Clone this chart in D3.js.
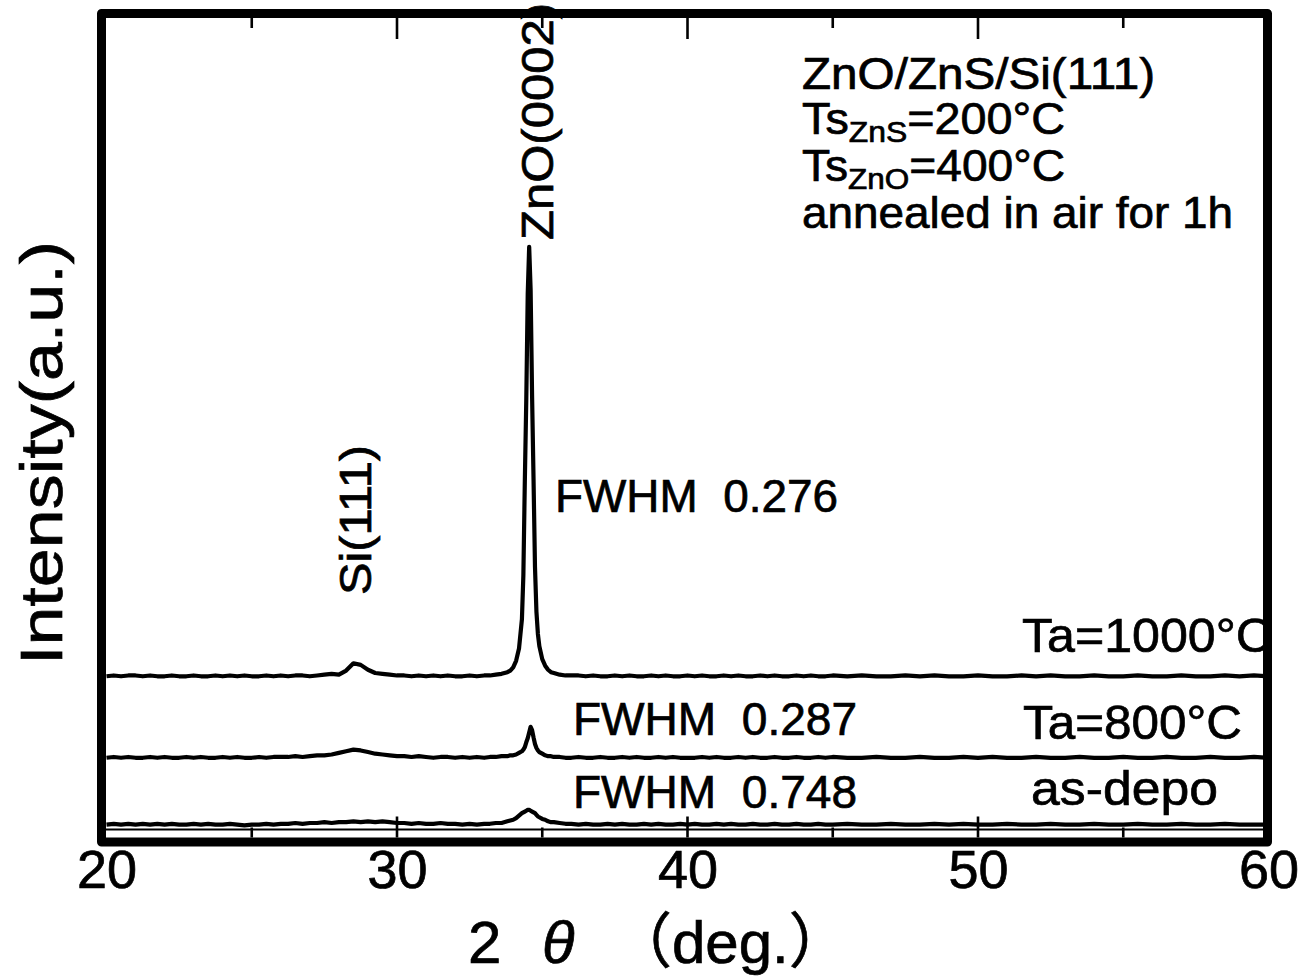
<!DOCTYPE html>
<html>
<head>
<meta charset="utf-8">
<script src="https://cdn.jsdelivr.net/npm/d3@7"></script>
<style>
  body { margin: 0; background: #fff; }
  text { font-family: "Liberation Sans", Arial, Helvetica, sans-serif; fill: #000;
         stroke: #000; stroke-width: 0.7px; white-space: pre; }
</style>
</head>
<body>
<svg id="chart" width="1303" height="979"></svg>
<script>
// ---- data -------------------------------------------------------------
// 2θ sampling (deg.): coarse scan, fine steps across the ZnO(0002) peak
const peakAngles = [33.2, 33.4, 33.6, 33.8, 33.9, 34.0, 34.1, 34.2, 34.3, 34.35, 34.4, 34.45,
  34.5, 34.55, 34.6, 34.65, 34.7, 34.75, 34.8, 34.85, 34.9, 35.0, 35.1, 35.2, 35.3, 35.4,
  35.6, 35.8, 36.0];
const twoTheta = [].concat(
  d3.range(20, 33.001, 0.25),
  peakAngles,
  d3.range(36.25, 45.001, 0.25),
  d3.range(45.5, 60.001, 0.5)
);

// intensities (a.u.)
const asDepo = [
  // 20 – 33
  6,7,6,7, 6,7,6,7, 6,7,6,6, 7,6,7,6, 6,7,6,5, 6,6,7,6, 7,7,8,7,
  8,8,9,8, 9,9,10,9, 10,9,10,9, 8,8,7,8, 7,7,8,7, 7,6,7,6, 7,
  // 33.2 – 36
  7,8,8,10, 11,12,14,17,20, 21,22,23,24,24,23,22,21,20,18,16,15, 13,12,10,9,9, 8,7,7,
  // 36.25 – 45
  6,7,6, 6,7,6,7, 6,6,7,6, 7,6,6,7, 6,7,6,6, 7,6,7,6, 6,7,6,6, 7,6,6,7, 6,6,7,6, 6,
  // 45.5 – 60
  7,6,6,7,6,6,7,6,7,6, 6,7,6,6,7,6,6,7,6,6, 7,6,6,7,6,6,7,6,6,6
];
const ta800 = [
  6,7,6,7, 6,6,7,6, 7,6,6,7, 6,7,6,6, 7,6,7,6, 6,7,6,7, 7,7,8,7,
  8,9,9,10, 12,14,16,15, 13,11,10,9, 8,8,7,8, 7,6,7,7, 6,7,6,7, 6,
  7,7,8,8, 9,9,10,12,14, 16,19,25,30,37,44,40,31,23,18,15,13, 11,9,8,8,7, 7,6,6,
  7,6,6, 7,6,6,7, 6,7,6,6, 7,6,7,6, 6,6,7,6, 7,6,6,7, 6,7,6,6, 7,6,6,7, 6,6,7,6, 7,
  6,6,7,6,6,7,6,6,7,6, 7,6,6,7,6,6,7,6,6,7, 6,6,7,6,6,7,6,6,7,6
];
const ta1000 = [
  6,7,6,7, 7,6,7,6, 6,7,6,6, 7,6,6,7, 6,7,6,7, 6,6,7,6, 7,6,7,7,
  6,7,8,9, 8,13,22,20, 14,10,9,8, 7,7,6,7, 6,7,6,7, 6,6,7,6, 7,
  7,8,9,11, 13,17,25,40,76, 130,245,345,475,533,480,350,248,140,85,58,43, 27,19,14,11,10, 8,7,7,
  7,6,7, 6,6,7,6, 7,6,6,7, 6,7,6,6, 7,6,7,6, 6,7,6,7, 6,6,7,6, 7,6,6,7, 6,7,6,6, 7,
  6,7,6,6,7,6,7,6,6,7, 6,6,7,6,7,6,6,7,6,6, 7,6,6,7,6,6,7,6,7,6
];

const seriesNames = ["as-depo", "Ta=800°C", "Ta=1000°C"];
const seriesValues = [asDepo, ta800, ta1000];
const seriesOffsets = [0, 82, 182];       // vertical stacking (a.u.)
const fwhmLabels = ["FWHM  0.748", "FWHM  0.287", "FWHM  0.276"];

const xTickLabels = [20, 30, 40, 50, 60];
const xMajorTicks = [30, 40, 50];
const xMinorTicks = [25, 35, 45, 55];

// ---- layout -----------------------------------------------------------
const svg = d3.select("#chart");
const frame = { left: 101.5, right: 1267.5, top: 13.5, bottom: 842 };

const x = d3.scaleLinear().domain([20, 60]).range([106.5, 1268.5]);
const y = d3.scaleLinear().domain([0, 1000]).range([829.5, 14.5]);

// zero-intensity line
svg.append("line")
  .attr("x1", frame.left).attr("x2", frame.right)
  .attr("y1", y(0)).attr("y2", y(0))
  .attr("stroke", "#000").attr("stroke-width", 2);

// diffraction patterns
const line = d3.line().x(d => x(d[0])).y(d => y(d[1]));
seriesValues.forEach((vals, i) => {
  const pts = twoTheta.map((t, k) => [t, vals[k] + seriesOffsets[i]]);
  svg.append("path")
    .datum(pts)
    .attr("d", line)
    .attr("fill", "none")
    .attr("stroke", "#000")
    .attr("stroke-width", 4.2)
    .attr("stroke-linejoin", "round");
});

// ticks on bottom and top edges (pointing inward)
const inB = frame.bottom - 4.5, inT = frame.top + 4.5;
const tickG = svg.append("g").attr("stroke", "#000").attr("stroke-width", 2.6);
xMajorTicks.forEach(v => {
  tickG.append("line").attr("x1", x(v)).attr("x2", x(v)).attr("y1", inB).attr("y2", inB - 21);
  tickG.append("line").attr("x1", x(v)).attr("x2", x(v)).attr("y1", inT).attr("y2", inT + 21);
});
xMinorTicks.forEach(v => {
  tickG.append("line").attr("x1", x(v)).attr("x2", x(v)).attr("y1", inB).attr("y2", inB - 10);
  tickG.append("line").attr("x1", x(v)).attr("x2", x(v)).attr("y1", inT).attr("y2", inT + 10);
});

// tick labels via the axis generator
const xAxis = d3.axisBottom(x).tickValues(xTickLabels).tickSize(0).tickPadding(0)
  .tickFormat(d3.format("d"));
const axG = svg.append("g").attr("transform", `translate(0,${frame.bottom})`).call(xAxis);
axG.select(".domain").remove();
axG.selectAll("text")
  .attr("y", 46).attr("dy", null)
  .style("font-family", '"Liberation Sans", Arial, sans-serif')
  .style("font-size", "54px")
  .attr("fill", "#000");

// ---- text helpers -----------------------------------------------------
function label(txt, px, py, size, len, opts = {}) {
  const t = svg.append("text")
    .attr("x", px).attr("y", py)
    .style("font-size", size + "px")
    .text(txt);
  if (len) t.attr("textLength", len).attr("lengthAdjust", "spacingAndGlyphs");
  if (opts.rotate) {
    t.attr("x", 0).attr("y", 0)
      .attr("transform", `translate(${px},${py}) rotate(-90)`);
  }
  if (opts.anchor) t.attr("text-anchor", opts.anchor);
  return t;
}

// series labels
label(seriesNames[2], 1022, 652, 49, 250);
label(seriesNames[1], 1023, 739, 49, 219);
label(seriesNames[0], 1031, 805, 49, 187);

// FWHM values
label(fwhmLabels[2], 555, 512, 46, 283);
label(fwhmLabels[1], 573, 735, 46, 284);
label(fwhmLabels[0], 573, 808, 46, 284);

// peak assignments (vertical)
label("ZnO(0002)", 553, 240, 44, 237, { rotate: true });
label("Si(111)", 371, 595, 44, 150, { rotate: true });

// sample description
label("ZnO/ZnS/Si(111)", 802, 89, 44, 353);
function subLine(main, sub, rest, py, len) {
  const t = svg.append("text").attr("x", 802).attr("y", py).style("font-size", "44px");
  t.append("tspan").text(main);
  t.append("tspan").attr("dy", 8).style("font-size", "30px").text(sub);
  t.append("tspan").attr("dy", -8).text(rest);
  t.attr("textLength", len).attr("lengthAdjust", "spacingAndGlyphs");
}
subLine("Ts", "ZnS", "=200°C", 134, 263);
subLine("Ts", "ZnO", "=400°C", 181, 263);
label("annealed in air for 1h", 802, 228, 44, 431);

// axis titles
label("Intensity(a.u.)", 62, 665, 60, 424, { rotate: true });
const xt = svg.append("text").attr("y", 963).style("font-size", "60px");
xt.append("tspan").attr("x", 468).text("2");
xt.append("tspan").attr("x", 542).style("font-style", "italic").text("θ");
xt.append("tspan").attr("x", 612)
  .style("font-family", '"Liberation Sans", "Noto Sans CJK JP", sans-serif')
  .text("（deg.）");

// frame
svg.append("rect")
  .attr("x", frame.left).attr("y", frame.top)
  .attr("width", frame.right - frame.left).attr("height", frame.bottom - frame.top)
  .attr("fill", "none").attr("stroke", "#000").attr("stroke-width", 9)
  .attr("stroke-linejoin", "round");
</script>
</body>
</html>
